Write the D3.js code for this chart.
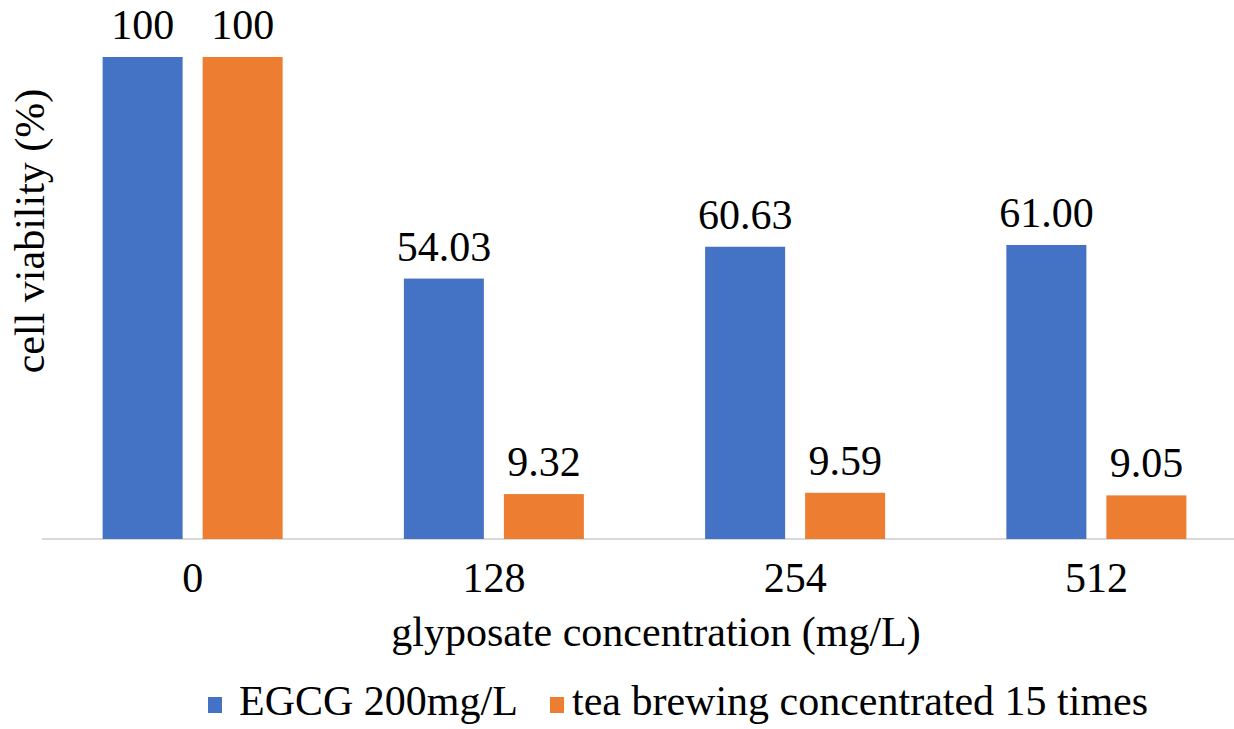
<!DOCTYPE html>
<html>
<head>
<meta charset="utf-8">
<script src="https://cdn.jsdelivr.net/npm/d3@7"></script>
</head>
<body style="margin:0">
<svg id="chart" width="1234" height="729"></svg>
<script>
const categories = ["0", "128", "254", "512"];
const seriesNames = ["EGCG 200mg/L", "tea brewing concentrated 15 times"];
const egcgValues = [100, 54.03, 60.63, 61.00];
const teaValues = [100, 9.32, 9.59, 9.05];
const egcgLabels = ["100", "54.03", "60.63", "61.00"];
const teaLabels = ["100", "9.32", "9.59", "9.05"];
const colors = ["#4472C4", "#ED7D31"];

const FS = 42;
const FAMILY = `"Liberation Serif", "Times New Roman", Tinos, "Nimbus Roman", Times`;
const svg = d3.select("#chart").style("font-family", FAMILY);
const plotLeft = 42, plotRight = 1247, plotTop = 57, plotBottom = 539;

const x = d3.scaleBand().domain(categories).range([plotLeft, plotRight]).padding(0);
const half = x.bandwidth() / 2;
const xSub = d3.scaleBand().domain(seriesNames).range([-100, 100]).paddingInner(0.2).paddingOuter(0.1);
const y = d3.scaleLinear().domain([0, 100]).range([plotBottom, plotTop]);

function txt(sel) {
  return sel.attr("font-size", FS).attr("fill", "#000").style("font-family", () => FAMILY);
}

const data = categories.map((c, i) => ({
  cat: c,
  vals: [
    { s: seriesNames[0], v: egcgValues[i], l: egcgLabels[i], c: colors[0] },
    { s: seriesNames[1], v: teaValues[i], l: teaLabels[i], c: colors[1] }
  ]
}));

// x axis
const xAxis = d3.axisBottom(x).tickSize(0).tickPadding(0);
const ax = svg.append("g").attr("transform", `translate(0,${plotBottom})`).call(xAxis);
ax.attr("font-family", null).attr("font-size", null);
ax.select(".domain").attr("stroke", "#d9d9d9").attr("stroke-width", 2).attr("d", `M${plotLeft},0H1234`);
ax.selectAll(".tick text").attr("y", 53).attr("dy", 0).call(txt);

const g = svg.selectAll("g.cat").data(data).enter().append("g")
  .attr("class", "cat")
  .attr("transform", d => `translate(${x(d.cat) + half},0)`);

g.selectAll("rect").data(d => d.vals).enter().append("rect")
  .attr("x", d => xSub(d.s))
  .attr("width", xSub.bandwidth())
  .attr("y", d => y(d.v))
  .attr("height", d => y(0) - y(d.v))
  .attr("fill", d => d.c);

g.selectAll("text.val").data(d => d.vals).enter().append("text")
  .attr("class", "val")
  .attr("x", d => xSub(d.s) + xSub.bandwidth()/2)
  .attr("y", d => y(d.v) - 18)
  .attr("text-anchor", "middle")
  .call(txt)
  .text(d => d.l);

// axis titles
svg.append("text")
  .attr("x", 656).attr("y", 646)
  .attr("text-anchor", "middle")
  .call(txt)
  .text("glyposate concentration (mg/L)");

svg.append("text")
  .attr("transform", "translate(44,231) rotate(-90)")
  .attr("text-anchor", "middle")
  .call(txt)
  .text("cell viability (%)");

// legend
const legendX = [208, 550];
const leg = svg.selectAll("g.leg").data(seriesNames).enter().append("g")
  .attr("class", "leg")
  .attr("transform", (d, i) => `translate(${legendX[i]},0)`);
leg.append("rect").attr("x", 0).attr("y", 697).attr("width", 14).attr("height", 16)
  .attr("fill", (d, i) => colors[i]);
leg.append("text").attr("x", (d, i) => i === 0 ? 31 : 22).attr("y", 715)
  .call(txt)
  .text(d => d);
</script>
</body>
</html>
